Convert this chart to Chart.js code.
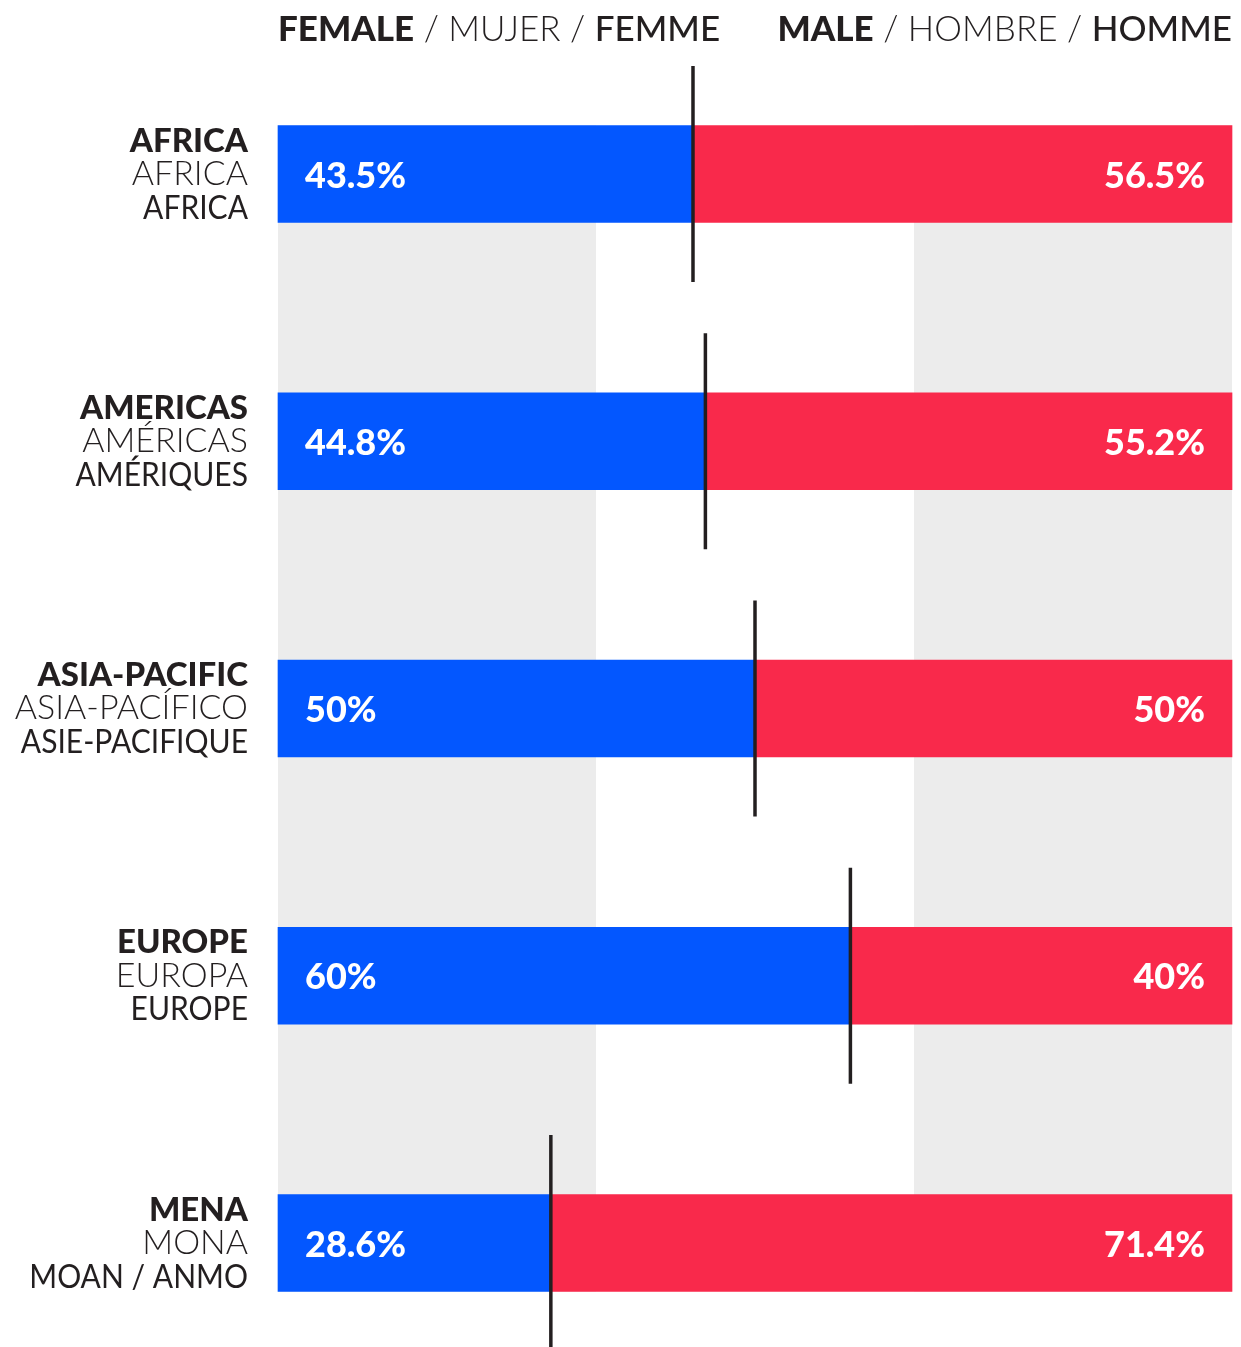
<!DOCTYPE html>
<html lang="en">
<head>
<meta charset="UTF-8">
<title>Female / Male by region</title>
<script src="https://cdn.jsdelivr.net/npm/chart.js"></script>
<style>
    body { margin: 0; background: #fff; }
    #wrap { width: 1241px; height: 1347px; position: relative; }
</style>
</head>
<body>
<div id="wrap"><canvas id="genderChart"></canvas></div>

<script>
    // region names, three languages
    const regionsEn = ['AFRICA', 'AMERICAS', 'ASIA-PACIFIC', 'EUROPE', 'MENA'];
    const regionsEs = ['AFRICA', 'AMÉRICAS', 'ASIA-PACÍFICO', 'EUROPA', 'MONA'];
    const regionsFr = ['AFRICA', 'AMÉRIQUES', 'ASIE-PACIFIQUE', 'EUROPE', 'MOAN / ANMO'];

    // shares in percent
    const female = [43.5, 44.8, 50, 60, 28.6];
    const male = [56.5, 55.2, 50, 40, 71.4];

    const BLUE = '#0357FF';
    const RED = '#F9294B';
    const GREY = '#ECECEC';
    const INK = '#231F20';
    const FONT = 'Lato, "Open Sans", sans-serif';
    const BAR_H = 97;

    // grey background thirds
    const bgBands = {
        id: 'bgBands',
        beforeDatasetsDraw(chart) {
            const { ctx, scales: { x, y } } = chart;
            const top = y.getPixelForValue(0) - BAR_H / 2;
            const bottom = y.getPixelForValue(regionsEn.length - 1) + BAR_H / 2;
            ctx.save();
            ctx.fillStyle = GREY;
            [[0, 100 / 3], [200 / 3, 100]].forEach(([a, b]) => {
                const x0 = x.getPixelForValue(a), x1 = x.getPixelForValue(b);
                ctx.fillRect(x0, top, x1 - x0, bottom - top);
            });
            ctx.restore();
        }
    };

    // split markers + value labels
    const barMarks = {
        id: 'barMarks',
        afterDatasetsDraw(chart) {
            const { ctx, scales: { x, y } } = chart;
            ctx.save();
            female.forEach((f, i) => {
                const cy = y.getPixelForValue(i);
                const px = x.getPixelForValue(f);
                ctx.strokeStyle = INK;
                ctx.lineWidth = 3.5;
                ctx.beginPath();
                ctx.moveTo(px, cy - 108);
                ctx.lineTo(px, cy + 108);
                ctx.stroke();

                ctx.fillStyle = '#fff';
                ctx.font = '900 36px ' + FONT;
                ctx.textBaseline = 'middle';
                ctx.textAlign = 'left';
                ctx.fillText(f + '%', x.left + 27, cy + 2);
                ctx.textAlign = 'right';
                ctx.fillText(male[i] + '%', x.right - 27, cy + 2);
            });
            ctx.restore();
        }
    };

    // headers and region labels
    const textLayer = {
        id: 'textLayer',
        afterDraw(chart) {
            const { ctx, scales: { x, y } } = chart;
            ctx.save();
            ctx.fillStyle = INK;
            ctx.textBaseline = 'alphabetic';
            ctx.textAlign = 'left';

            function runs(parts) {
                let w = 0;
                parts.forEach(p => { ctx.font = p[1] + ' 35px ' + FONT; w += ctx.measureText(p[0]).width; });
                return w;
            }
            function drawRuns(parts, startX, baseY) {
                let cx = startX;
                parts.forEach(p => {
                    ctx.font = p[1] + ' 35px ' + FONT;
                    ctx.fillText(p[0], cx, baseY);
                    cx += ctx.measureText(p[0]).width;
                });
            }
            const fem = [['FEMALE', '900'], [' / MUJER / ', '300'], ['FEMME', '500']];
            const mal = [['MALE', '900'], [' / HOMBRE / ', '300'], ['HOMME', '500']];
            drawRuns(fem, x.left, 41);
            drawRuns(mal, x.right - runs(mal), 41);

            // narrow text a little, the source face is tighter than Lato
            function narrow(txt, px, py, k) {
                ctx.fillText(txt, px, py, ctx.measureText(txt).width * k);
            }
            ctx.textAlign = 'right';
            ctx.textBaseline = 'middle';
            const lx = x.left - 30;
            regionsEn.forEach((r, i) => {
                const cy = y.getPixelForValue(i);
                ctx.font = '900 33px ' + FONT;
                narrow(r, lx, cy - 33, 1.0);
                ctx.font = '300 34px ' + FONT;
                narrow(regionsEs[i], lx, cy, 1.0);
                ctx.font = '400 33px ' + FONT;
                narrow(regionsFr[i], lx, cy + 34, 0.91);
            });
            ctx.restore();
        }
    };

    new Chart(document.getElementById('genderChart'), {
        type: 'bar',
        data: {
            labels: regionsEn,
            datasets: [
                { label: 'Female', data: female, backgroundColor: BLUE, barThickness: BAR_H, clip: false },
                { label: 'Male', data: male, backgroundColor: RED, barThickness: BAR_H, clip: false }
            ]
        },
        options: {
            indexAxis: 'y',
            responsive: true,
            maintainAspectRatio: false,
            animation: false,
            layout: { padding: { left: 278, right: 9, top: 174, bottom: 104 } },
            scales: {
                x: { stacked: true, min: 0, max: 100, display: false },
                y: { stacked: true, offset: false, display: false }
            },
            plugins: {
                legend: { display: false },
                tooltip: { enabled: false }
            }
        },
        plugins: [bgBands, barMarks, textLayer]
    });
</script>
</body>
</html>
